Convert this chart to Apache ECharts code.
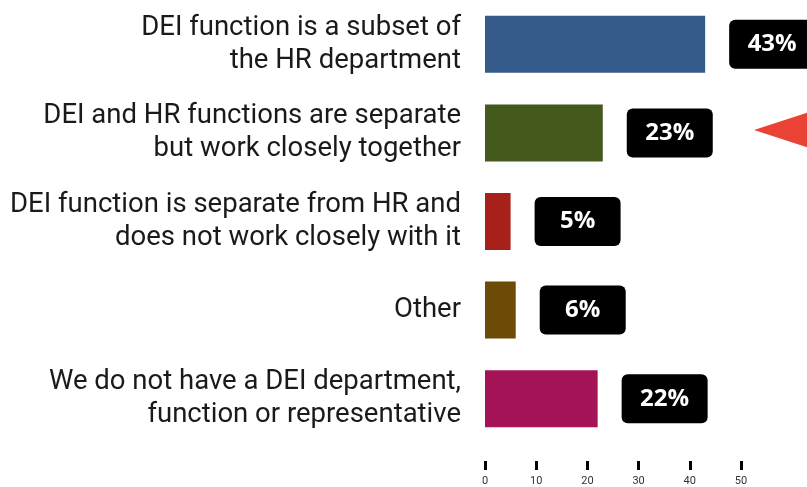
<!DOCTYPE html>
<html>
<head>
<meta charset="utf-8">
<script src="https://cdn.jsdelivr.net/npm/echarts@6/dist/echarts.min.js"></script>
<style>
  html, body { margin: 0; padding: 0; background: #fff; }
  #chart { width: 807px; height: 487px; }
</style>
</head>
<body>
<div id="chart"></div>
<script>
// data
const categories = [
  'DEI function is a subset of\nthe HR department',
  'DEI and HR functions are separate\nbut work closely together',
  'DEI function is separate from HR and\ndoes not work closely with it',
  'Other',
  'We do not have a DEI department,\nfunction or representative'
]
const values = [43, 23, 5, 6, 22]
const barColors = ['#355b8b', '#435a1c', '#a8201a', '#6d4b07', '#a31356']
const tickValues = [0, 10, 20, 30, 40, 50]

const chart = echarts.init(document.getElementById('chart'))

const option = {
  animation: false,
  grid: { left: 485, right: 66, top: -2, bottom: 44, containLabel: false },
  xAxis: {
    type: 'value',
    min: 0,
    max: 50,
    interval: 10,
    position: 'bottom',
    offset: 18,
    axisLine: { show: false },
    splitLine: { show: false },
    axisTick: {
      show: true,
      length: 9,
      lineStyle: { color: '#000', width: 3 }
    },
    axisLabel: {
      color: '#333',
      fontSize: 11,
      fontFamily: 'Roboto',
      margin: 15
    }
  },
  yAxis: {
    type: 'category',
    inverse: true,
    data: categories,
    axisLine: { show: false },
    axisTick: { show: false },
    axisLabel: {
      color: '#1a1a1a',
      fontSize: 27.5,
      fontFamily: 'Roboto',
      lineHeight: 33,
      margin: 24,
      align: 'right'
    }
  },
  series: [{
    type: 'bar',
    data: values.map((v, i) => ({ value: v, itemStyle: { color: barColors[i] } })),
    barWidth: 57,
    label: {
      show: true,
      position: 'right',
      distance: 24,
      formatter: '{v|{c}%}',
      backgroundColor: '#000',
      borderRadius: 6,
      padding: [13, 0],
      rich: {
        v: {
          width: 86,
          align: 'center',
          color: '#fff',
          fontFamily: 'Open Sans',
          fontWeight: 'bold',
          fontSize: 24,
          lineHeight: 23
        }
      }
    }
  }],
  graphic: [{
    type: 'polygon',
    shape: { points: [[754, 130], [812, 111], [812, 149]] },
    style: { fill: '#ea4335' },
    silent: true
  }]
}

chart.setOption(option)
</script>
</body>
</html>
